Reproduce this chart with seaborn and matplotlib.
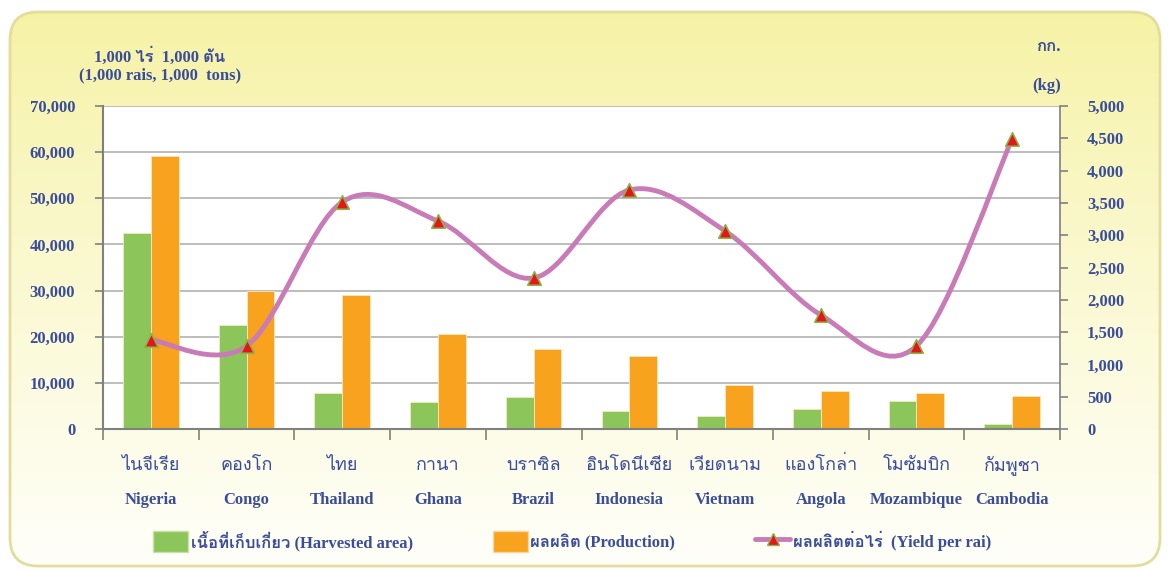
import numpy as np
import pandas as pd
import matplotlib
matplotlib.use("Agg")
import matplotlib.pyplot as plt
import seaborn as sns
from matplotlib import font_manager
from matplotlib.ft2font import FT2Font
from matplotlib.patches import FancyBboxPatch, Patch
from matplotlib.path import Path
from matplotlib.patches import PathPatch
from matplotlib.lines import Line2D

countries_th = ["ไนจีเรีย", "คองโก", "ไทย", "กานา", "บราซิล",
                "อินโดนีเซีย", "เวียดนาม", "แองโกล่า", "โมซัมบิก", "กัมพูชา"]
countries_en = ["Nigeria", "Congo", "Thailand", "Ghana", "Brazil",
                "Indonesia", "Vietnam", "Angola", "Mozambique", "Cambodia"]
harvested = [42500, 22500, 7800, 5900, 6900, 3900, 2800, 4300, 6100, 1100]
production = [59200, 29900, 29000, 20600, 17300, 15800, 9500, 8200, 7800, 7200]
yield_rai = [1380, 1285, 3514, 3220, 2337, 3700, 3065, 1765, 1285, 4489]

left_ticks = list(range(0, 70001, 10000))
right_ticks = list(range(0, 5001, 500))

TXT = "#3a4d9c"
GREEN = "#8cc65a"
ORANGE = "#f8a21e"
LINE = "#c97bb8"


def find_thai_font():  # look for any installed font that has Thai glyphs
    for f in font_manager.fontManager.ttflist:
        try:
            if 0x0E01 in FT2Font(f.fname).get_charmap():
                return f.name
        except Exception:
            pass
    return None


sns.set_theme(style="white")
thai = find_thai_font()
serif = ["Liberation Serif"] + ([thai] if thai else []) + ["DejaVu Sans"]
thai_first = ([thai] if thai else []) + ["Liberation Serif", "DejaVu Sans"]
plt.rcParams["font.family"] = serif

fig = plt.figure(figsize=(11.68, 5.71), dpi=100)
fig.patch.set_facecolor("white")

# rounded yellow panel with vertical gradient
bg = fig.add_axes([0, 0, 1, 1], zorder=-10)
bg.set_xlim(0, 1168)
bg.set_ylim(571, 0)
bg.axis("off")
grad = np.linspace(0, 1, 256).reshape(-1, 1)
top_c = np.array([246, 242, 164]) / 255
bot_c = np.array([255, 255, 250]) / 255
img = top_c + (bot_c - top_c) * grad ** 0.9
img = np.repeat(img[:, None, :], 2, axis=1)
im = bg.imshow(img, extent=(8, 1162, 568, 10), aspect="auto")
box = FancyBboxPatch((10, 12), 1150, 554, boxstyle="round,pad=0,rounding_size=28",
                     facecolor="none", edgecolor="#e2dd9a", linewidth=2)
bg.add_patch(box)
im.set_clip_path(box)

ax = fig.add_axes([103 / 1168, 1 - 429 / 571, 957 / 1168, 323 / 571])
df = pd.DataFrame({
    "country": countries_en * 2,
    "value": harvested + production,
    "series": ["area"] * 10 + ["prod"] * 10,
})
sns.barplot(data=df, x="country", y="value", hue="series",
            palette=[GREEN, ORANGE], width=0.58, saturation=1,
            edgecolor="#f5e9c0", linewidth=0.6, legend=False, ax=ax)
ax.set_facecolor("white")
ax.set_xlim(-0.5, 9.5)
ax.set_ylim(0, 70000)
ax.set_yticks(left_ticks)
ax.set_yticklabels([f"{v:,}" for v in left_ticks], fontsize=12,
                   fontweight="bold", color=TXT)
ax.yaxis.grid(True, color="#bdbdbd", linewidth=1.4)
ax.set_axisbelow(True)
ax.set_xlabel("")
ax.set_ylabel("")
ax.set_xticks(np.arange(-0.5, 10, 1))
ax.set_xticklabels([])
ax.tick_params(axis="x", length=8, width=1.2, color="#808080", direction="out", bottom=True)
ax.tick_params(axis="y", length=6, width=1.2, color="#808080", direction="out", left=True, pad=14)
for s in ["left", "bottom"]:
    ax.spines[s].set_color("#808080")
    ax.spines[s].set_linewidth(1.5)
ax.spines["top"].set_visible(False)
ax.spines["right"].set_visible(False)

for i in range(10):
    ax.text(i, -0.11, countries_th[i], transform=ax.get_xaxis_transform(),
            ha="center", va="center", fontsize=13, color=TXT, family=thai_first)
    ax.text(i, -0.22, countries_en[i], transform=ax.get_xaxis_transform(),
            ha="center", va="center", fontsize=12, fontweight="bold", color=TXT)

# yield per rai on the right axis, smoothed like the original line
ax2 = ax.twinx()
ax2.set_ylim(0, 5000)
ax2.set_yticks(right_ticks)
ax2.set_yticklabels([f"{v:,}" for v in right_ticks], fontsize=12,
                    fontweight="bold", color=TXT)
ax2.tick_params(axis="y", length=6, width=1.2, color="#808080", direction="out", right=True, pad=13.5)
ax2.grid(False)
for s in ["top", "left", "bottom"]:
    ax2.spines[s].set_visible(False)
ax2.spines["right"].set_color("#808080")
ax2.spines["right"].set_linewidth(1.2)

pts = np.column_stack([np.arange(10), yield_rai]).astype(float)
verts = [pts[0]]
codes = [Path.MOVETO]
for i in range(len(pts) - 1):
    p0 = pts[i - 1] if i > 0 else pts[i]
    p1, p2 = pts[i], pts[i + 1]
    p3 = pts[i + 2] if i + 2 < len(pts) else pts[i + 1]
    verts += [p1 + (p2 - p0) / 6, p2 - (p3 - p1) / 6, p2]
    codes += [Path.CURVE4] * 3
ax2.add_patch(PathPatch(Path(verts, codes), facecolor="none", edgecolor=LINE,
                        linewidth=3.5, capstyle="round", zorder=3))
sns.scatterplot(x=np.arange(10), y=yield_rai, marker="^", s=95, color="#e8141c",
                edgecolor="#8cb34a", linewidth=1.2, zorder=4, ax=ax2)

# axis unit captions
fig.text(160 / 1168, 1 - 57 / 571, "1,000 ไร่  1,000 ตัน", ha="center", va="center",
         fontsize=12, fontweight="bold", color=TXT)
fig.text(160 / 1168, 1 - 75 / 571, "(1,000 rais, 1,000  tons)", ha="center", va="center",
         fontsize=12, fontweight="bold", color=TXT)
fig.text(1048 / 1168, 1 - 47 / 571, "กก.", ha="center", va="center",
         fontsize=12, fontweight="bold", color=TXT)
fig.text(1047 / 1168, 1 - 86 / 571, "(kg)", ha="center", va="center",
         fontsize=12, fontweight="bold", color=TXT)

handles = [
    Patch(facecolor=GREEN, edgecolor="#c8e0a8"),
    Patch(facecolor=ORANGE, edgecolor="#f8d8a0"),
    Line2D([0], [0], color=LINE, linewidth=3.5, marker="^", markersize=9,
           markerfacecolor="#e8141c", markeredgecolor="#8cb34a"),
]
labels = ["เนื้อที่เก็บเกี่ยว (Harvested area)", "ผลผลิต (Production)",
          "ผลผลิตต่อไร่  (Yield per rai)"]
fig.legend(handles, labels, loc="center", bbox_to_anchor=(0.5 - 12 / 1168, 1 - 541 / 571), ncol=3,
           frameon=False, handlelength=2.1, handleheight=1.5, handletextpad=0.15,
           columnspacing=4.8, prop={"weight": "bold", "size": 12}, labelcolor=TXT)

fig.savefig("out.png", dpi=100)
